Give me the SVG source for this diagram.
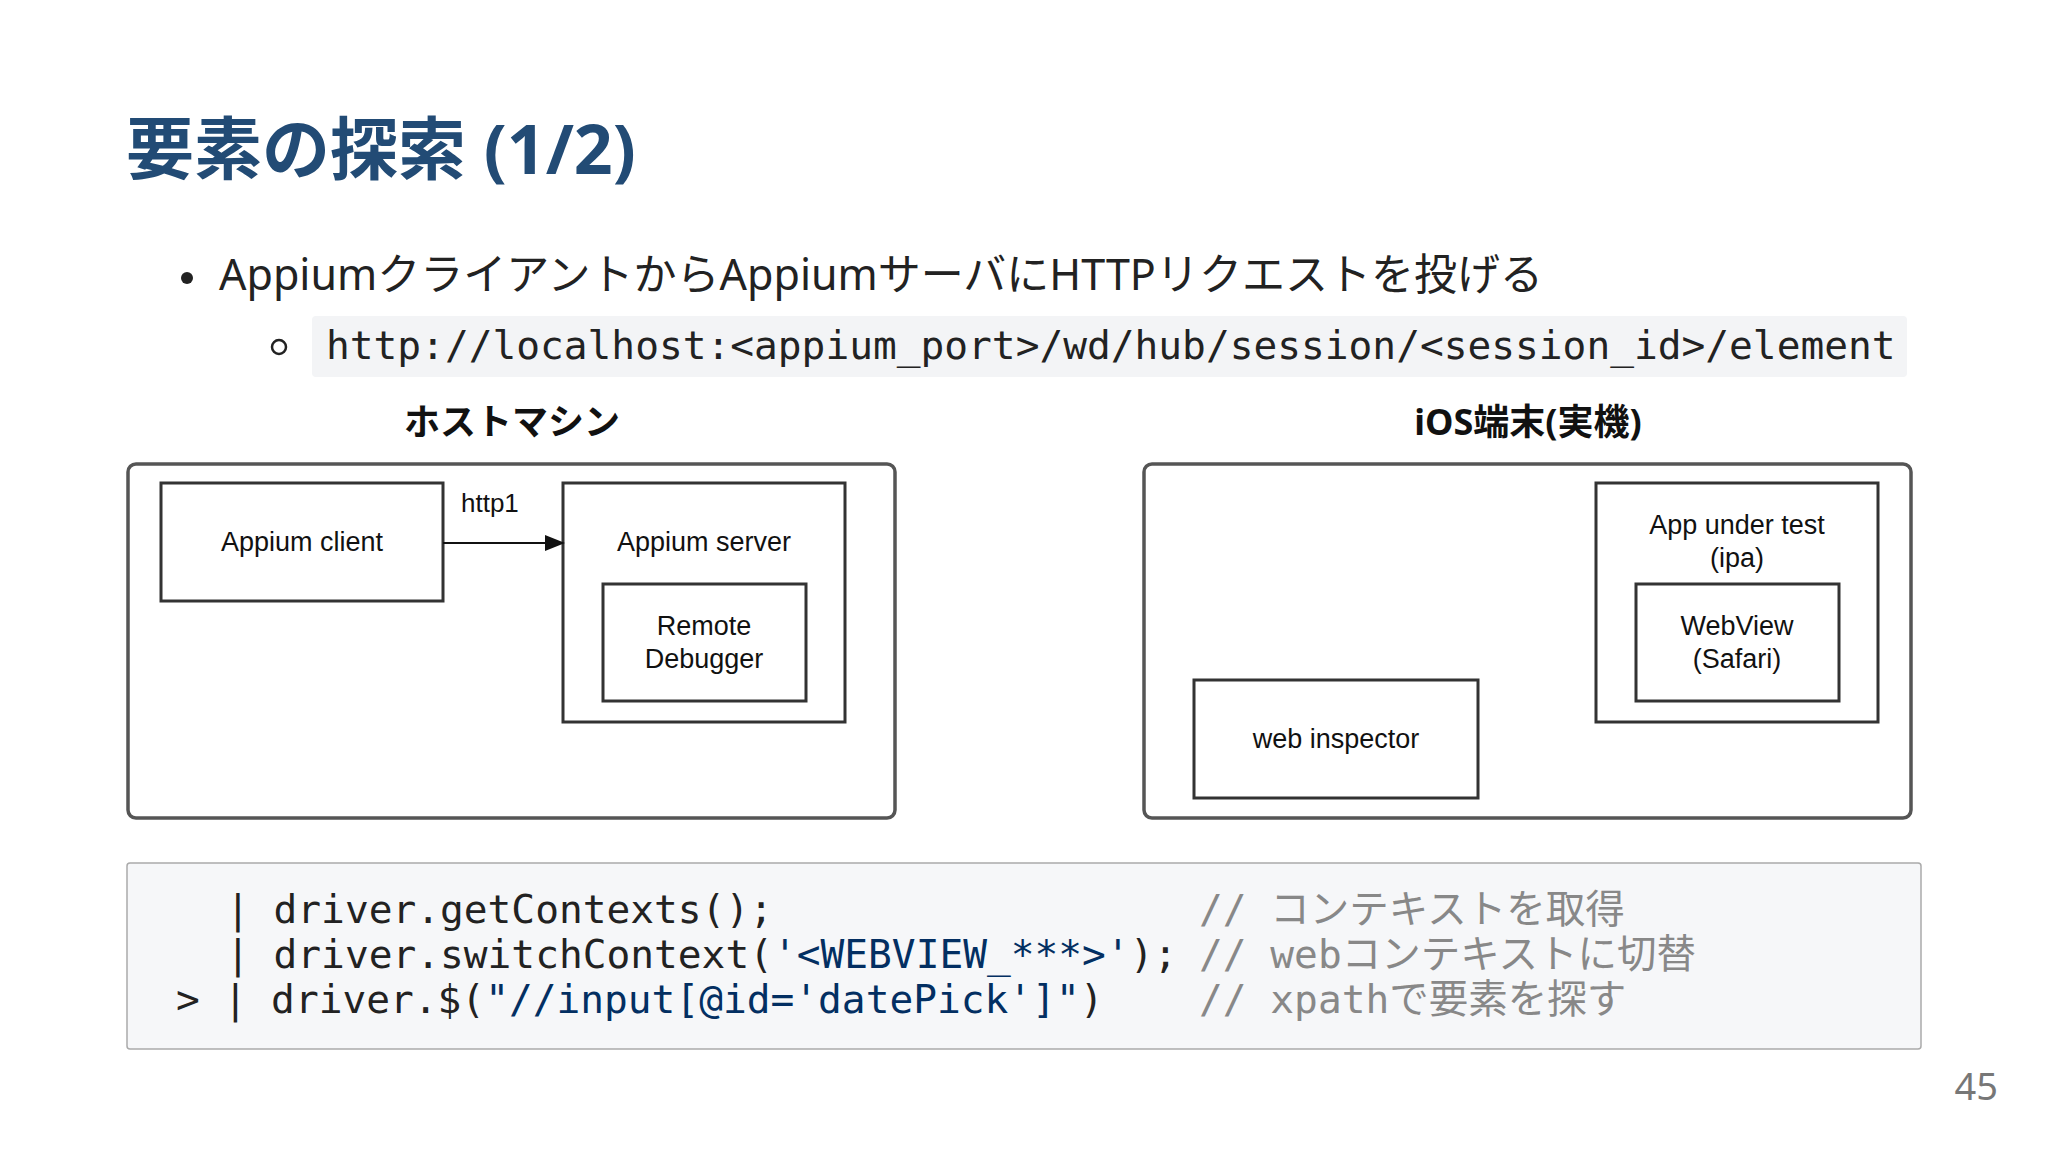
<svg xmlns="http://www.w3.org/2000/svg" width="2048" height="1152" viewBox="0 0 2048 1152">
<style>
.t{font-family:"Noto Sans","Noto Sans CJK JP",sans-serif}
.m{font-family:"DejaVu Sans Mono","Noto Sans CJK JP",monospace;font-size:39.5px}
.box{fill:#fff;stroke:#333;stroke-width:3}
.big{fill:#fff;stroke:#555;stroke-width:3.5}
.dl{font-family:"Liberation Sans","Noto Sans CJK JP",sans-serif;font-size:27px;fill:#111;text-anchor:middle}
.s{fill:#032f62}.c{fill:#888}
</style>
<defs><marker id="ar" markerWidth="10" markerHeight="10" refX="9" refY="5" orient="auto"><path d="M0,1 L10,5 L0,9 Z" fill="#111"/></marker></defs>
<rect width="2048" height="1152" fill="#fff"/>
<g id="title"><text x="126" y="174" class="t" font-size="68" font-weight="bold" fill="#224b75">要素の探索 (1/2)</text></g>
<g id="bullets">
<circle cx="187" cy="278" r="6" fill="#222"/>
<text x="219" y="290" class="t" font-size="43" fill="#222">AppiumクライアントからAppiumサーバにHTTPリクエストを投げる</text>
<circle cx="279" cy="347" r="7" fill="none" stroke="#222" stroke-width="2.5"/>
<rect x="312" y="316" width="1595" height="61" rx="4" fill="#f3f4f6"/>
<text x="326" y="359" class="m" fill="#222">http://localhost:&lt;appium_port&gt;/wd/hub/session/&lt;session_id&gt;/element</text>
</g>
<g id="host">
<text x="512" y="435" class="t" font-size="36" font-weight="bold" text-anchor="middle" fill="#111">ホストマシン</text>
<rect x="128" y="464" width="767" height="354" rx="8" class="big"/>
</g>
<g id="ios">
<text x="1528" y="435" class="t" font-size="36" font-weight="bold" text-anchor="middle" fill="#111">iOS端末(実機)</text>
<rect x="1144" y="464" width="767" height="354" rx="8" class="big"/>
</g>
<g id="appium-client"><rect x="161" y="483" width="282" height="118" class="box"/><text x="302" y="551" class="dl">Appium client</text></g>
<g id="appium-server"><rect x="563" y="483" width="282" height="239" class="box"/><text x="704" y="551" class="dl">Appium server</text></g>
<g id="remote-debugger"><rect x="603" y="584" width="203" height="117" class="box"/><text x="704" y="635" class="dl">Remote</text><text x="704" y="668" class="dl">Debugger</text></g>
<g id="app-under-test"><rect x="1596" y="483" width="282" height="239" class="box"/><text x="1737" y="534" class="dl">App under test</text><text x="1737" y="567" class="dl">(ipa)</text></g>
<g id="webview"><rect x="1636" y="584" width="203" height="117" class="box"/><text x="1737" y="635" class="dl">WebView</text><text x="1737" y="668" class="dl">(Safari)</text></g>
<g id="web-inspector"><rect x="1194" y="680" width="284" height="118" class="box"/><text x="1336" y="748" class="dl">web inspector</text></g>
<g id="connectors">
<line x1="443" y1="543" x2="563" y2="543" stroke="#111" stroke-width="2" marker-end="url(#ar)"/>
<text x="461" y="512" font-family="Liberation Sans,sans-serif" font-size="26" fill="#111">http1</text>
</g>
<g id="code">
<rect x="127" y="863" width="1794" height="186" rx="3" fill="#f6f7f9" stroke="#aaa" stroke-width="1.5"/>
<text class="m" fill="#222"><tspan x="226" y="923">| driver.getContexts();</tspan><tspan x="226" y="968">| driver.switchContext(<tspan class="s">'&lt;WEBVIEW_***&gt;'</tspan>);</tspan><tspan x="176" y="1013">&gt; | driver.$(<tspan class="s">"//input[@id='datePick']"</tspan>)</tspan></text>
<text class="m c"><tspan x="1199" y="923">// コンテキストを取得</tspan><tspan x="1199" y="968">// webコンテキストに切替</tspan><tspan x="1199" y="1013">// xpathで要素を探す</tspan></text>
</g>
<text x="1998" y="1100" class="t" font-size="38" fill="#777" text-anchor="end">45</text>
</svg>
